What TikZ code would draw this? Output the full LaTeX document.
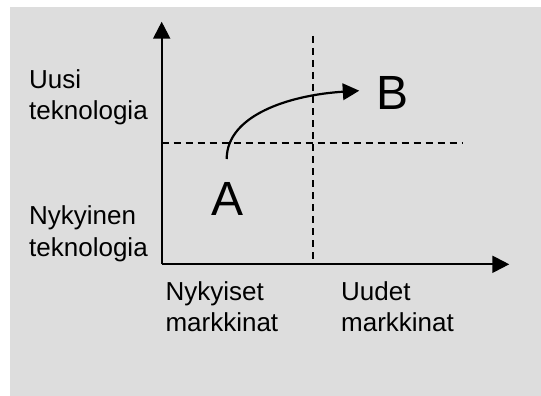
\documentclass[tikz,border=0pt]{standalone}
\usepackage{fontspec}
\setmainfont{Liberation Sans}
\usetikzlibrary{arrows.meta}
\definecolor{bggray}{RGB}{221,221,221}
\tikzset{
  axisline/.style={line width=2.1pt, -{Triangle[length=17pt,width=17pt]}},
  divline/.style={line width=2.1pt, dash pattern=on 7pt off 5pt},
  moveline/.style={line width=2.2pt, -{Triangle[length=16.5pt,width=16.5pt]}},
  lbl/.style={anchor=base west, inner sep=0pt, align=left, font=\fontsize{26}{31.5}\selectfont},
  bigletter/.style={anchor=base, inner sep=0pt, font=\fontsize{48}{50}\selectfont}
}
\begin{document}
\begin{tikzpicture}[x=1pt,y=-1pt]
  \useasboundingbox (0,0) rectangle (541,396);
  \fill[bggray] (10,6.7) rectangle (541,396);
  \coordinate (O) at (161.7,264.3);
  \coordinate (ytip) at (161.7,21.7);
  \coordinate (xtip) at (509.3,264.3);
  \coordinate (vtop) at (312.7,36);
  \coordinate (vbot) at (312.7,264.3);
  \coordinate (hleft) at (161.7,143.3);
  \coordinate (hright) at (462.7,143.3);
  \coordinate (cstart) at (226.7,159);
  \coordinate (cend) at (359.3,90.7);
  \draw[divline] (vtop) -- (vbot);
  \draw[divline] (hleft) -- (hright);
  \draw[axisline] (O) -- (ytip);
  \draw[axisline] (O) -- (xtip);
  \draw[moveline] (cstart) .. controls (226.7,115) and (290,95) .. (cend);
  \node[bigletter] (A) at (227.2,215) {A};
  \node[bigletter, anchor=base west] (B) at (376.5,109.3) {B};
  \node[lbl] (uusi) at (29,119.8) {Uusi\\teknologia};
  \node[lbl] (nyk) at (29,256) {Nykyinen\\teknologia};
  \node[lbl] (nykm) at (165.3,331.7) {Nykyiset\\markkinat};
  \node[lbl] (uudm) at (341,331.7) {Uudet\\markkinat};
\end{tikzpicture}
\end{document}
